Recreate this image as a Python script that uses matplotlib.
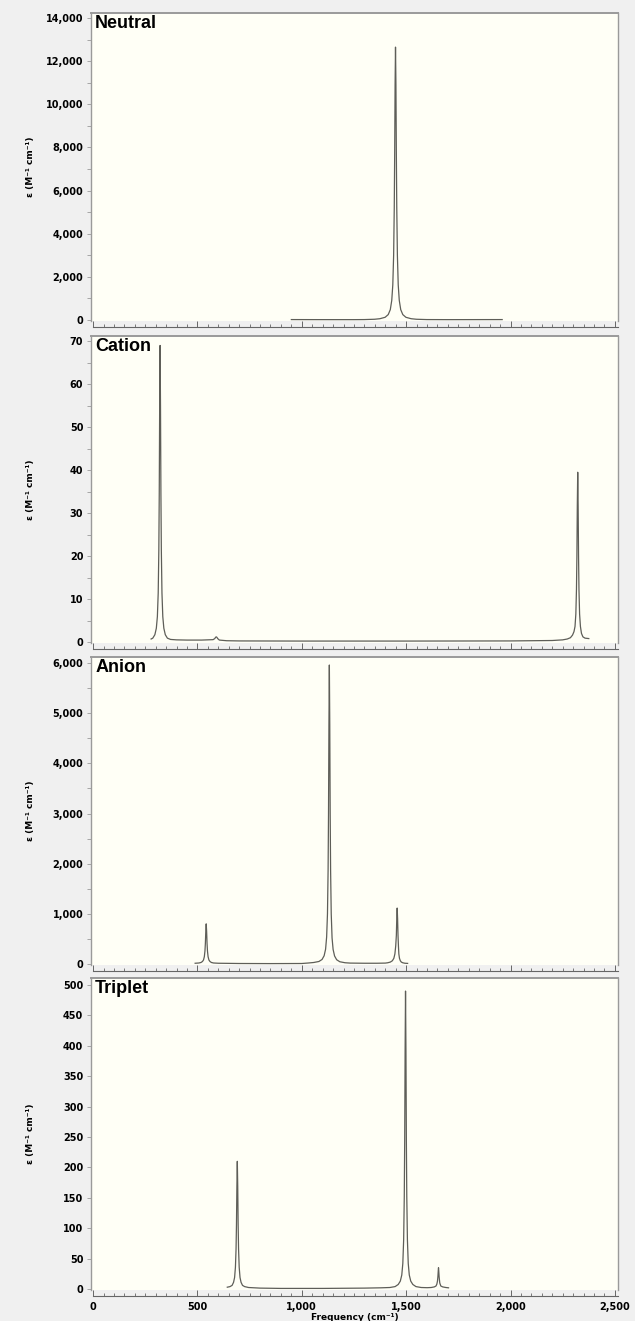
import matplotlib
matplotlib.use("Agg")
import matplotlib.pyplot as plt
from matplotlib.ticker import MultipleLocator, FuncFormatter

# spectra (frequency in cm-1, epsilon in M-1 cm-1)
neutral_x = [950, 1050, 1150, 1250, 1299, 1349, 1374, 1399, 1414, 1424, 1431,
             1436, 1440, 1443, 1445, 1447, 1449, 1451, 1453, 1455, 1458, 1462,
             1467, 1474, 1484, 1499, 1524, 1549, 1599, 1700, 1800, 1960]
neutral_y = [20, 18, 17, 17, 20, 35, 60, 125, 250, 480, 910,
             1630, 3000, 5200, 7700, 10900, 12650, 10900, 7700, 5200, 3000, 1630,
             910, 480, 250, 125, 60, 35, 20, 17, 18, 20]

cation_x = [278, 286, 296, 303, 308, 312, 315, 317, 319, 321,
            323, 325, 327, 330, 334, 339, 346, 356, 371, 400,
            450, 520, 575, 583, 587, 590, 593, 597, 605, 640,
            700, 1000, 1500, 2000, 2200, 2250, 2272, 2287, 2297, 2304,
            2309, 2313, 2316, 2318, 2320, 2322, 2324, 2326, 2328, 2331,
            2335, 2340, 2347, 2357, 2375]
cation_y = [0.7, 0.9, 1.7, 3.2, 5.9, 11.4, 21.4, 34.5, 55, 69,
            55, 34.5, 21.4, 11.4, 5.9, 3.2, 1.7, 0.9, 0.6, 0.5,
            0.45, 0.45, 0.55, 0.8, 1.1, 1.2, 1.1, 0.8, 0.45, 0.3,
            0.25, 0.22, 0.22, 0.25, 0.35, 0.5, 0.7, 1.0, 1.6, 2.4,
            3.6, 6.5, 12.2, 19.8, 31.6, 39.5, 31.6, 19.8, 12.2, 6.5,
            3.6, 2.0, 1.2, 0.9, 0.8]

anion_x = [489, 507, 517, 524, 529, 533, 536, 538, 540, 542,
           544, 546, 548, 551, 555, 560, 567, 577, 600, 700,
           850, 1000, 1032, 1057, 1082, 1097, 1107, 1114, 1119, 1123,
           1126, 1128, 1130, 1132, 1134, 1136, 1138, 1141, 1145, 1150,
           1157, 1167, 1182, 1207, 1232, 1300, 1360, 1400, 1411, 1424,
           1434, 1441, 1446, 1450, 1453, 1455, 1457, 1459, 1461, 1463,
           1465, 1468, 1472, 1477, 1484, 1494, 1507]
anion_y = [15, 20, 30, 50, 80, 145, 260, 410, 650, 800,
           650, 410, 260, 145, 80, 50, 30, 20, 15, 10,
           8, 10, 20, 30, 50, 90, 165, 295, 540, 1000,
           1870, 3000, 4770, 5960, 4770, 3000, 1870, 1000, 520, 290,
           160, 85, 45, 25, 18, 15, 15, 18, 24, 38,
           65, 113, 200, 360, 570, 900, 1115, 900, 570, 360,
           200, 113, 65, 38, 24, 15, 12]

triplet_x = [643, 656, 666, 673, 678, 682, 685, 687, 689, 691,
             693, 695, 697, 700, 704, 709, 716, 726, 745, 800,
             900, 1100, 1300, 1380, 1422, 1447, 1462, 1472, 1479, 1484,
             1488, 1491, 1493, 1495, 1497, 1499, 1501, 1503, 1506, 1510,
             1515, 1522, 1532, 1547, 1572, 1600, 1620, 1635, 1643, 1647,
             1650, 1652, 1654, 1655, 1656, 1658, 1661, 1666, 1675, 1690,
             1703]
triplet_y = [3, 4, 6, 11, 19, 36, 66, 106, 169, 210,
             169, 106, 66, 36, 19, 11, 6, 4, 2.5, 1.5,
             1, 1, 1.5, 2, 2.5, 4, 7.5, 13, 23, 42,
             81, 152, 245, 392, 490, 392, 245, 152, 81, 42,
             23, 13, 7.5, 4, 2.5, 2.2, 2.5, 3.5, 5, 8,
             13, 20, 31, 35, 31, 20, 10, 5, 3.5, 2.5,
             2]

panels = ["Neutral", "Cation", "Anion", "Triplet"]
spectra = [(neutral_x, neutral_y), (cation_x, cation_y),
           (anion_x, anion_y), (triplet_x, triplet_y)]
y_steps = [2000, 10, 1000, 50]
y_minor = [1000, 5, 500, None]
y_limits = [(-46, 14232), (-0.23, 71.2), (-20, 6120), (-1.6, 511.5)]

# axes boxes in pixels (top, bottom) on a 635 x 1321 canvas
boxes = [(13, 321), (336, 643), (657, 965), (978, 1290)]

W, H = 635, 1321
fig = plt.figure(figsize=(W / 100, H / 100), dpi=100)
fig.patch.set_facecolor("#f0f0f0")

left, right = 91, 618
fmt = FuncFormatter(lambda v, p: f"{v:,.0f}")
spine_col = "#9a9a9a"

for i, name in enumerate(panels):
    top, bot = boxes[i]
    ax = fig.add_axes([left / W, (H - bot) / H, (right - left) / W, (bot - top) / H])
    ax.set_facecolor("#fffff6")
    x, y = spectra[i]
    ax.plot(x, y, color="#5e5e58", lw=0.9)

    ax.set_xlim(-10, 2515)
    ax.set_ylim(*y_limits[i])

    ax.xaxis.set_major_locator(MultipleLocator(500))
    ax.xaxis.set_minor_locator(MultipleLocator(50))
    ax.yaxis.set_major_locator(MultipleLocator(y_steps[i]))
    if y_minor[i]:
        ax.yaxis.set_minor_locator(MultipleLocator(y_minor[i]))
    ax.yaxis.set_major_formatter(fmt)
    ax.xaxis.set_major_formatter(fmt)

    for s in ["top", "right", "left", "bottom"]:
        ax.spines[s].set_color(spine_col)
        ax.spines[s].set_linewidth(1.0)
    ax.spines["top"].set_linewidth(1.4)
    ax.spines["bottom"].set_position(("outward", 4.5))
    ax.spines["bottom"].set_bounds(0, 2515)
    ax.spines["bottom"].set_color("#666666")
    ax.spines["bottom"].set_linewidth(0.8)

    ax.tick_params(axis="x", which="major", direction="in", length=4, width=0.7,
                   color="#666666", pad=4, labelsize=7)
    ax.tick_params(axis="x", which="minor", direction="in", length=2.5, width=0.6,
                   color="#666666")
    ax.tick_params(axis="y", which="major", direction="out", length=3, width=0.6,
                   color=spine_col, pad=2.5, labelsize=7)
    ax.tick_params(axis="y", which="minor", direction="out", length=3, width=0.6,
                   color=spine_col)
    for lab in ax.get_yticklabels() + ax.get_xticklabels():
        lab.set_fontweight("bold")

    ax.set_ylabel("ε (M⁻¹ cm⁻¹)", fontsize=6.5, fontweight="bold")
    ax.yaxis.set_label_coords(-0.107, 0.5)

    ax.text(0.008, 0.992, name, transform=ax.transAxes, ha="left", va="top",
            fontsize=13, fontweight="bold", family="Liberation Sans")

    if i < len(panels) - 1:
        ax.tick_params(axis="x", labelbottom=False)
    else:
        ax.set_xlabel("Frequency (cm⁻¹)", fontsize=6.5, fontweight="bold", labelpad=1)

fig.savefig("out.png", dpi=100, facecolor=fig.get_facecolor())
